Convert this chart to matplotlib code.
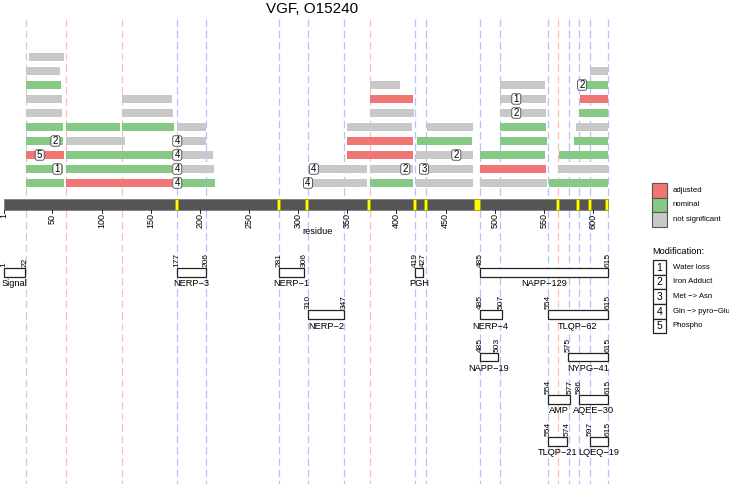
import matplotlib.pyplot as plt
from matplotlib.patches import Rectangle, FancyBboxPatch

plt.rcParams['font.family'] = ['Liberation Sans', 'DejaVu Sans']

title = 'VGF, O15240'
seq_len = 615

# detected peptides: track (1 = top), first / last residue, significance
pep_track = [1,
             2, 2,
             3, 3, 3, 3,
             4, 4, 4, 4, 4,
             5, 5, 5, 5, 5,
             6, 6, 6, 6, 6, 6, 6, 6,
             7, 7, 7, 7, 7, 7, 7,
             8, 8, 8, 8, 8, 8, 8,
             9, 9, 9, 9, 9, 9, 9, 9,
             10, 10, 10, 10, 10, 10, 10, 10]
pep_start = [26,
             23, 597,
             23, 373, 505, 589,
             23, 121, 373, 505, 587,
             23, 121, 373, 505, 586,
             23, 64, 121, 177, 350, 431, 505, 583,
             23, 64, 177, 350, 421, 505, 581,
             23, 64, 177, 350, 420, 485, 565,
             23, 64, 177, 316, 373, 428, 485, 564,
             23, 64, 177, 310, 373, 420, 485, 555]
pep_end = [62,
           58, 615,
           59, 404, 551, 615,
           60, 172, 417, 552, 615,
           60, 173, 418, 552, 615,
           61, 119, 174, 206, 416, 478, 552, 615,
           61, 124, 206, 417, 477, 553, 615,
           62, 172, 213, 417, 478, 551, 615,
           61, 172, 214, 370, 417, 478, 552, 615,
           62, 172, 215, 370, 417, 478, 553, 615]
pep_status = ['ns',
              'ns', 'ns',
              'nom', 'ns', 'ns', 'nom',
              'ns', 'ns', 'adj', 'ns', 'adj',
              'ns', 'ns', 'ns', 'ns', 'nom',
              'nom', 'nom', 'nom', 'ns', 'ns', 'ns', 'nom', 'ns',
              'nom', 'ns', 'ns', 'adj', 'nom', 'nom', 'nom',
              'adj', 'nom', 'ns', 'adj', 'ns', 'nom', 'nom',
              'nom', 'nom', 'ns', 'ns', 'ns', 'ns', 'adj', 'ns',
              'nom', 'adj', 'nom', 'ns', 'nom', 'ns', 'ns', 'nom']

# modifications on detected peptides
mod_track = [3, 4, 5, 7, 7, 8, 8, 8, 9, 9, 9, 9, 9, 10, 10]
mod_pos = [589, 522, 522, 53, 177, 37, 177, 461, 55, 177, 316, 409, 428, 177, 310]
mod_code = [2, 1, 2, 2, 4, 5, 4, 2, 1, 4, 4, 2, 3, 4, 4]

# cleavage sites on the sequence bar
site_start = [175, 279, 307, 370, 417, 428, 479, 562, 583, 595, 612]
site_end = [178, 282, 310, 373, 420, 431, 485, 565, 586, 598, 615]

# guide lines
line_signal = [23]
line_red = [64, 121, 373, 564]
line_blue = [177, 206, 281, 310, 347, 419, 430, 485, 505, 554, 576, 586, 597, 615]

# known peptides
known_name = ['Signal', 'NERP\u22123', 'NERP\u22121', 'PGH', 'NAPP\u2212129',
              'NERP\u22122', 'NERP\u22124', 'TLQP\u221262',
              'NAPP\u221219', 'NYPG\u221241',
              'AMP', 'AQEE\u221230',
              'TLQP\u221221', 'LQEQ\u221219']
known_start = [1, 177, 281, 419, 485, 310, 485, 554, 485, 575, 554, 586, 554, 597]
known_end = [22, 206, 306, 427, 615, 347, 507, 615, 503, 615, 577, 615, 574, 615]
known_level = [0, 0, 0, 0, 0, 1, 1, 1, 2, 2, 3, 3, 4, 4]

status_colors = {'adj': '#F07575', 'nom': '#85C985', 'ns': '#C8C8C8'}
status_labels = [('adj', 'adjusted'), ('nom', 'nominal'), ('ns', 'not significant')]
mod_names = ['Water loss', 'Iron Adduct', 'Met \u2212> Asn', 'Gln \u2212> pyro\u2212Glu', 'Phospho']
ticks = [1, 50, 100, 150, 200, 250, 300, 350, 400, 450, 500, 550, 600]

W, H = 729, 484
fig = plt.figure(figsize=(W / 100, H / 100), dpi=100)

# residue -> pixel: x = 3.32 + 0.9827 * r
a, b = 3.32, 0.9827
ax = fig.add_axes([0, 0, 1, 1])
ax.set_xlim((0 - a) / b, (W - a) / b)
ax.set_ylim(H, 0)
ax.axis('off')

ov = fig.add_axes([0, 0, 1, 1])
ov.set_xlim(0, W)
ov.set_ylim(H, 0)
ov.axis('off')
ov.patch.set_alpha(0)

dash = dict(lw=0.9, linestyle=(0, (6, 3)), zorder=1)
for r in line_signal:
    ax.plot([r, r], [19, H], color='#B8DDB8', **dash)
for r in line_red:
    ax.plot([r, r], [19, H], color='#FFBABA', **dash)
for r in line_blue:
    ax.plot([r, r], [19, H], color='#BDBDFF', **dash)


def track_y(t):
    return 57 + (t - 1) * 14


bar_h = 8.8
for t, s, e, st in zip(pep_track, pep_start, pep_end, pep_status):
    y = track_y(t)
    ax.add_patch(Rectangle((s, y - bar_h / 2), e - s, bar_h,
                           fc=status_colors[st], ec='none', zorder=2))

for t, p, c in zip(mod_track, mod_pos, mod_code):
    y = track_y(t)
    bw, bh = 9 / b, 10.5
    ax.add_patch(FancyBboxPatch((p - bw / 2, y - bh / 2), bw, bh,
                                boxstyle='round,pad=0,rounding_size=2',
                                fc='white', ec='#444444', lw=0.6, zorder=5))
    ax.text(p, y + 0.3, str(c), ha='center', va='center', fontsize=7, zorder=6)

# sequence bar
ax.add_patch(Rectangle((0.5, 199), seq_len, 10.5, fc='#555555', ec='#777777', lw=0.5, zorder=3))
for s, e in zip(site_start, site_end):
    ax.add_patch(Rectangle((s, 199), e - s, 10.5, fc='#FFFF00', ec='#A0A000', lw=0.5, zorder=4))

for t in ticks:
    ax.plot([t, t], [209.5, 212.5], color='black', lw=0.6, zorder=4)
    ax.text(t, 213.5, str(t), rotation=90, ha='center', va='top', fontsize=6.5)
ov.text(318, 232, 'residue', ha='center', va='center', fontsize=6.6)

# known peptides
box_h = 8.6
for name, s, e, lv in zip(known_name, known_start, known_end, known_level):
    yc = 272.5 + lv * 42.25
    ax.add_patch(Rectangle((s, yc - box_h / 2), e - s, box_h,
                           fc='white', ec='#222222', lw=0.9, zorder=3))
    for v in (s, e):
        ax.text(v, yc - box_h / 2 - 1.2, str(v), rotation=90, ha='center', va='bottom',
                fontsize=6, zorder=4)
    ax.text((s + e) / 2, yc + box_h / 2 + 2.5, name, ha='center', va='top',
            fontsize=6.7, zorder=4)

ov.text(312, 9, title, ha='center', va='center', fontsize=11)

# significance legend
for i, (k, lab) in enumerate(status_labels):
    y0 = 182.7 + i * 14.8
    ov.add_patch(Rectangle((652.3, y0), 14.4, 14.8, fc=status_colors[k], ec='#555555', lw=0.8))
    ov.text(672.7, y0 + 7.4, lab, ha='left', va='center', fontsize=5.6)

# modification legend
ov.text(652.5, 251.7, 'Modification:', ha='left', va='center', fontsize=6.7)
for i, nm in enumerate(mod_names):
    y0 = 260 + i * 14.67
    ov.add_patch(Rectangle((652.7, y0), 13.3, 14.67, fc='white', ec='#222222', lw=0.9))
    ov.text(659.35, y0 + 7.6, str(i + 1), ha='center', va='center', fontsize=7.5)
    ov.text(672.7, y0 + 7.3, nm, ha='left', va='center', fontsize=5.6)

fig.savefig('out.png', dpi=100)
